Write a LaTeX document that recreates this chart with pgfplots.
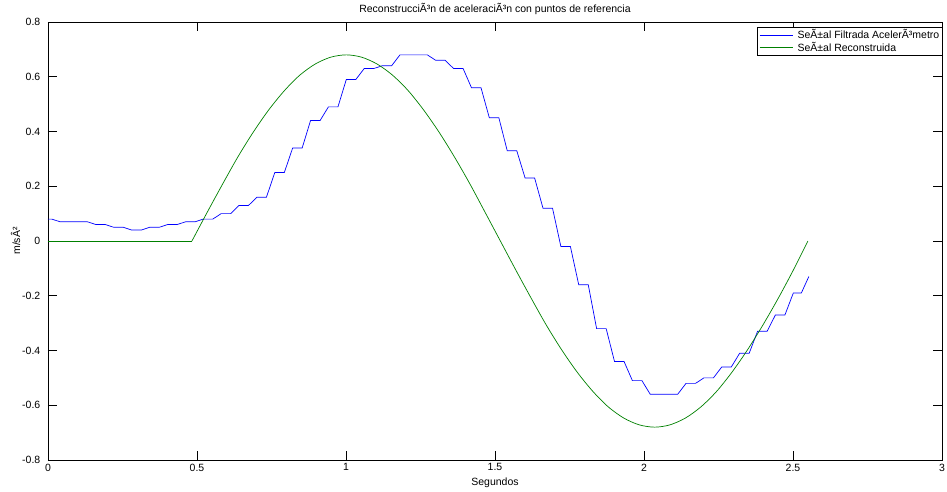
\documentclass[border=0pt]{standalone}
\usepackage{fontspec}
\setmainfont{Liberation Sans}
\usepackage{pgfplots}
\pgfplotsset{compat=1.18}
\definecolor{mblue}{rgb}{0,0,1}
\definecolor{mgreen}{rgb}{0,0.5,0}
\begin{document}
\fontsize{10.5}{12.6}\selectfont
\begin{tikzpicture}
\begin{axis}[
  scale only axis, width=894pt, height=438pt,
  xmin=0, xmax=3, ymin=-0.8, ymax=0.8,
  xtick={0,0.5,1,1.5,2,2.5,3},
  ytick={-0.8,-0.6,-0.4,-0.2,0,0.2,0.4,0.6,0.8},
  /pgf/number format/assume math mode=true,
  tick label style={font=\fontsize{10.5}{12.6}\selectfont},
  yticklabel style={xshift=-4pt},
  tick align=inside,
  major tick length=9pt,
  tick style={black, line width=0.6pt},
  axis line style={line width=0.6pt},
  title={ReconstrucciÃ³n de aceleraciÃ³n con puntos de referencia},
  title style={at={(0.5,1.0069)}, anchor=base, font=\fontsize{10.5}{12.6}\selectfont},
  xlabel={Segundos},
  xlabel style={at={(0.5,-0.0571)}, anchor=base, font=\fontsize{10.5}{12.6}\selectfont},
  ylabel={m/sÂ²},
  ylabel style={at={(-0.0313,0.5)}, anchor=base, font=\fontsize{10.5}{12.6}\selectfont},
  legend style={at={(1,0.9886)}, anchor=north east, fill=white,
    font=\fontsize{10.5}{12.6}\selectfont, inner sep=1pt, row sep=-1.5pt,
    nodes={inner sep=1.5pt}},
  legend cell align=left,
  legend image code/.code={},
]
\addplot[mblue, line width=0.7pt] coordinates {
(0,0.08) (0.013,0.08)
(0.041,0.07) (0.073,0.07)
(0.101,0.07) (0.133,0.07)
(0.161,0.06) (0.193,0.06)
(0.221,0.05) (0.253,0.05)
(0.281,0.04) (0.313,0.04)
(0.341,0.05) (0.373,0.05)
(0.401,0.06) (0.433,0.06)
(0.461,0.07) (0.493,0.07)
(0.521,0.08) (0.553,0.08)
(0.581,0.10) (0.613,0.10)
(0.641,0.13) (0.673,0.13)
(0.701,0.16) (0.733,0.16)
(0.761,0.25) (0.793,0.25)
(0.821,0.34) (0.853,0.34)
(0.881,0.44) (0.913,0.44)
(0.941,0.49) (0.973,0.49)
(1.001,0.59) (1.033,0.59)
(1.061,0.63) (1.093,0.63)
(1.121,0.64) (1.153,0.64)
(1.181,0.68) (1.213,0.68)
(1.241,0.68) (1.273,0.68)
(1.301,0.66) (1.333,0.66)
(1.361,0.63) (1.393,0.63)
(1.421,0.56) (1.453,0.56)
(1.481,0.45) (1.513,0.45)
(1.541,0.33) (1.573,0.33)
(1.601,0.23) (1.633,0.23)
(1.661,0.12) (1.693,0.12)
(1.721,-0.02) (1.753,-0.02)
(1.781,-0.16) (1.813,-0.16)
(1.841,-0.32) (1.873,-0.32)
(1.901,-0.44) (1.933,-0.44)
(1.961,-0.51) (1.993,-0.51)
(2.021,-0.56) (2.053,-0.56)
(2.081,-0.56) (2.113,-0.56)
(2.141,-0.52) (2.173,-0.52)
(2.201,-0.50) (2.233,-0.50)
(2.261,-0.46) (2.293,-0.46)
(2.321,-0.41) (2.353,-0.41)
(2.381,-0.33) (2.413,-0.33)
(2.441,-0.27) (2.473,-0.27)
(2.501,-0.19) (2.528,-0.19)
(2.553,-0.13)
};
\addlegendentry{\textcolor{mblue}{\rule[0.32em]{33pt}{0.7pt}}\hspace{5pt}SeÃ±al Filtrada AcelerÃ³metro}
\addplot[mgreen, line width=0.7pt, forget plot] coordinates {
(0,0) (0.483,0)
};
\addplot[mgreen, line width=0.7pt, smooth] coordinates {
(0.483,0)
(0.535,0.1064) (0.587,0.2101) (0.638,0.3087) (0.690,0.3997) (0.742,0.4808)
(0.794,0.5501) (0.845,0.6059) (0.897,0.6467) (0.949,0.6716) (1.001,0.68)
(1.052,0.6716) (1.104,0.6467) (1.156,0.6059) (1.208,0.5501) (1.259,0.4808)
(1.311,0.3997) (1.363,0.3087) (1.415,0.2101) (1.466,0.1064) (1.518,0)
(1.570,-0.1064) (1.622,-0.2101) (1.673,-0.3087) (1.725,-0.3997) (1.777,-0.4808)
(1.829,-0.5501) (1.880,-0.6059) (1.932,-0.6467) (1.984,-0.6716) (2.036,-0.68)
(2.087,-0.6716) (2.139,-0.6467) (2.191,-0.6059) (2.243,-0.5501) (2.294,-0.4808)
(2.346,-0.3997) (2.398,-0.3087) (2.450,-0.2101) (2.501,-0.1064) (2.55,0)
};
\addlegendentry{\textcolor{mgreen}{\rule[0.32em]{33pt}{0.7pt}}\hspace{5pt}SeÃ±al Reconstruida}
\end{axis}
\pgfresetboundingbox
\path (-48pt,-31pt) rectangle (899pt,460pt);
\end{tikzpicture}
\end{document}
